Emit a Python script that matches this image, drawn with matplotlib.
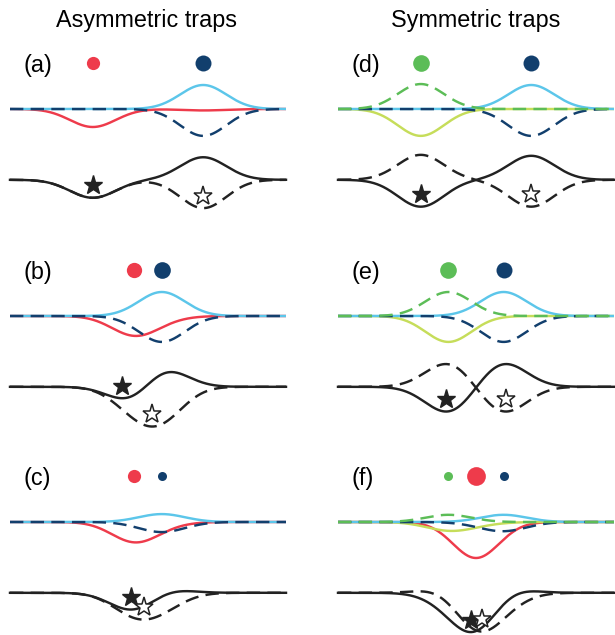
import numpy as np
import matplotlib.pyplot as plt

plt.rcParams['font.family'] = ['Liberation Sans', 'DejaVu Sans']

RED = '#ee3b4b'
CYAN = '#5cc6ea'
NAVY = '#123f6d'
GREEN = '#5cbd57'
LIME = '#c6dd5a'
INK = '#222222'

# trap positions (units of the gaussian width) and amplitudes on each trap
labels = ['(a)', '(b)', '(c)', '(d)', '(e)', '(f)']
sites = [[-2.4, 2.4], [-0.6, 0.6], [-0.6, 0.6],
         [-2.4, 2.4], [-1.2, 1.2], [-1.2, 0.0, 1.2]]
red_amp = [[-0.75, -0.06], [-0.78, -0.1], [-0.8, -0.1],
           None, None, [0.0, -1.5, 0.0]]
cyan_amp = [[0.0, 1.0], [0.0, 1.0], [0.0, 0.33],
            [0.0, 1.0], [0.0, 1.0], [0.0, 0.0, 0.3]]
navy_amp = [[0.0, -1.12], [0.0, -1.08], [0.0, -0.42],
            [0.0, -1.12], [0.0, -1.08], [0.0, -0.03, -0.37]]
green_amp = [None, None, None, [1.04, 0.0], [1.0, 0.0], [0.3, 0.0, 0.0]]
lime_amp = [None, None, None, [-1.12, 0.0], [-1.08, 0.0], [-0.33, -0.08, 0.0]]

# occupation dots above the traps
dot_colors = [[RED, NAVY], [RED, NAVY], [RED, NAVY],
              [GREEN, NAVY], [GREEN, NAVY], [GREEN, RED, NAVY]]
dot_sizes = [[9.5, 11.5], [11, 12], [9.5, 6.5],
             [12, 11.5], [12, 11.5], [6.5, 13.5, 6.5]]

x = np.linspace(-6, 6, 800)


def bumps(pos, amps):
    y = np.zeros_like(x)
    if amps is None:
        return y
    for s, a in zip(pos, amps):
        y += a * np.exp(-(x - s) ** 2 / 2)
    return y


fig = plt.figure(figsize=(6.15, 6.35), dpi=100)
W, H = 615, 635
row_base = [109, 316, 522]   # pixel row of the upper baseline
col_left = [10, 338]
ppu_y = 24
lo, hi = -4.7, 2.6
shift = -2.95
dash = (5.5, 3)

for i in range(6):
    col, row = divmod(i, 3)
    top = row_base[row] - hi * ppu_y
    ax = fig.add_axes([col_left[col] / W, 1 - (top + (hi - lo) * ppu_y) / H,
                       276 / W, (hi - lo) * ppu_y / H])
    ax.set_xlim(-6, 6)
    ax.set_ylim(lo, hi)
    ax.axis('off')

    pos = sites[i]
    red = bumps(pos, red_amp[i])
    cyan = bumps(pos, cyan_amp[i])
    navy = bumps(pos, navy_amp[i])
    green = bumps(pos, green_amp[i])
    lime = bumps(pos, lime_amp[i])

    lw = 1.75
    if red_amp[i] is not None:
        ax.plot(x, red, color=RED, lw=lw, zorder=2)
    if lime_amp[i] is not None:
        ax.plot(x, lime, color=LIME, lw=lw, zorder=2)
    ax.plot(x, cyan, color=CYAN, lw=lw, zorder=3)
    ax.plot(x, navy, color=NAVY, lw=lw, dashes=dash, zorder=4)
    if green_amp[i] is not None:
        ax.plot(x, green, color=GREEN, lw=lw, dashes=dash, zorder=5)

    solid = red + lime + cyan
    dashed = red + green + navy
    ax.plot(x, solid + shift, color=INK, lw=lw, zorder=3, clip_on=False)
    ax.plot(x, dashed + shift, color=INK, lw=lw, dashes=dash, zorder=3,
            clip_on=False)

    k = np.argmin(solid)
    ax.plot(x[k], solid[k] + shift + 0.52, marker='*', ms=14, color=INK,
            mec=INK, zorder=6, clip_on=False)
    k = np.argmin(dashed)
    ax.plot(x[k], dashed[k] + shift + 0.52, marker='*', ms=14, mfc='white',
            mec=INK, mew=1.1, zorder=7, clip_on=False)

    for s, c, m in zip(pos, dot_colors[i], dot_sizes[i]):
        ax.plot(s, 1.92, marker='o', ms=m, color=c, mec='none')

    ax.text(-5.43, 1.8, labels[i], fontsize=16.8, ha='left', va='center')

fig.text(146 / W, 1 - 27 / H, 'Asymmetric traps', fontsize=16.8,
         ha='center', va='baseline')
fig.text(476 / W, 1 - 27 / H, 'Symmetric traps', fontsize=16.8,
         ha='center', va='baseline')

fig.savefig('out.png', dpi=100)
